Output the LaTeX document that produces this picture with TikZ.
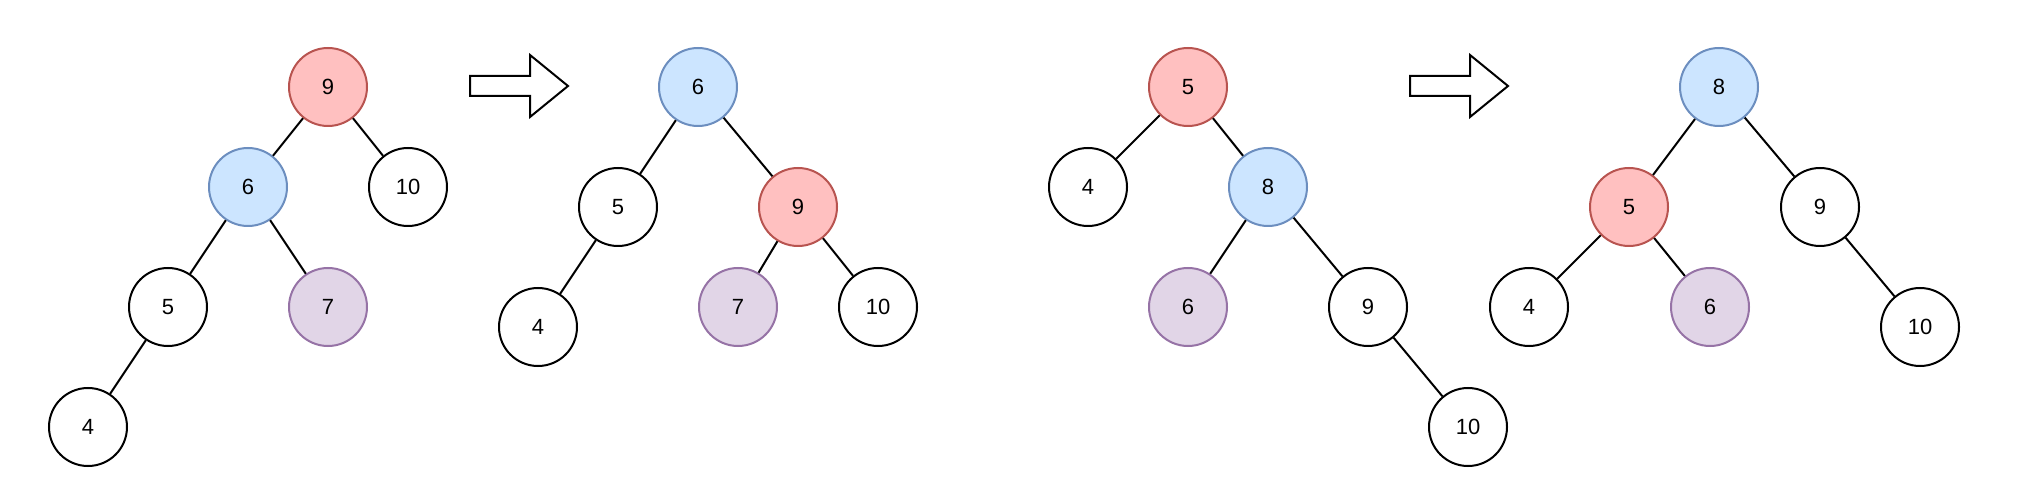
\documentclass[tikz,border=0pt]{standalone}
\usepackage{fontspec}
\setmainfont{Liberation Sans}
\definecolor{redfill}{HTML}{FFC0C0}
\definecolor{redline}{HTML}{B85450}
\definecolor{bluefill}{HTML}{CCE5FF}
\definecolor{blueline}{HTML}{6C8EBF}
\definecolor{purplefill}{HTML}{E1D5E7}
\definecolor{purpleline}{HTML}{9673A6}

\begin{document}
\begin{tikzpicture}[x=1pt,y=-1pt,line width=2pt,
    vertex/.style={circle,draw,minimum size=78pt,inner sep=0pt,font=\fontsize{22}{26}\selectfont},
    redvertex/.style={vertex,fill=redfill,draw=redline},
    bluevertex/.style={vertex,fill=bluefill,draw=blueline},
    purplevertex/.style={vertex,fill=purplefill,draw=purpleline}]
\useasboundingbox (0,0) rectangle (2042,502);
% first tree
\node[redvertex] (a9) at (328,87) {9};
\node[bluevertex] (a6) at (248,187) {6};
\node[vertex] (a10) at (408,187) {10};
\node[vertex] (a5) at (168,307) {5};
\node[purplevertex] (a7) at (328,307) {7};
\node[vertex] (a4) at (88,427) {4};
% second tree
\node[bluevertex] (b6) at (698,87) {6};
\node[vertex] (b5) at (618,207) {5};
\node[redvertex] (b9) at (798,207) {9};
\node[vertex] (b4) at (538,327) {4};
\node[purplevertex] (b7) at (738,307) {7};
\node[vertex] (b10) at (878,307) {10};
% third tree
\node[redvertex] (c5) at (1188,87) {5};
\node[vertex] (c4) at (1088,187) {4};
\node[bluevertex] (c8) at (1268,187) {8};
\node[purplevertex] (c6) at (1188,307) {6};
\node[vertex] (c9) at (1368,307) {9};
\node[vertex] (c10) at (1468,427) {10};
% fourth tree
\node[bluevertex] (d8) at (1719,87) {8};
\node[redvertex] (d5) at (1629,207) {5};
\node[vertex] (d9) at (1820,207) {9};
\node[vertex] (d4) at (1529,307) {4};
\node[purplevertex] (d6) at (1710,307) {6};
\node[vertex] (d10) at (1920,327) {10};
\foreach \u/\v in {a9/a6,a9/a10,a6/a5,a6/a7,a5/a4,
                   b6/b5,b6/b9,b5/b4,b9/b7,b9/b10,
                   c5/c4,c5/c8,c8/c6,c8/c9,c9/c10,
                   d8/d5,d8/d9,d5/d4,d5/d6,d9/d10}
  \draw (\u) -- (\v);
% arrows
\draw (470,76) -- (530,76) -- (530,55) -- (568,86) -- (530,117) -- (530,96) -- (470,96) -- cycle;
\draw (1410,76) -- (1470,76) -- (1470,55) -- (1508,86) -- (1470,117) -- (1470,96) -- (1410,96) -- cycle;
\end{tikzpicture}
\end{document}
